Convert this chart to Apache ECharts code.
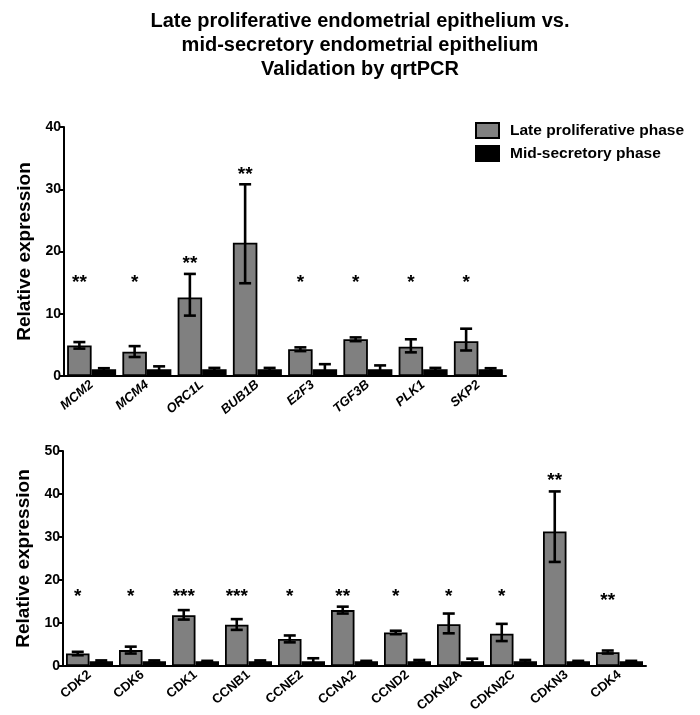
<!DOCTYPE html>
<html>
<head>
<meta charset="utf-8">
<script src="https://cdn.jsdelivr.net/npm/echarts@6/dist/echarts.min.js"></script>
<style>html,body{margin:0;padding:0;background:#fff}#c{width:700px;height:715px}</style>
</head>
<body>
<div id="c"></div>
<script>
// ---- data ----
const titleLines = ['Late proliferative endometrial epithelium vs.', 'mid-secretory endometrial epithelium', 'Validation by qrtPCR'];

const topCats = ['MCM2','MCM4','ORC1L','BUB1B','E2F3','TGF3B','PLK1','SKP2'];
const topLate = [4.9, 3.9, 12.6, 21.4, 4.3, 5.9, 4.7, 5.6];
const topLateLow = [4.4, 3.05, 9.7, 14.9, 4.0, 5.6, 3.8, 4.1];
const topLateHigh = [5.45, 4.8, 16.4, 30.8, 4.6, 6.2, 5.9, 7.6];
const topMid = [1.1, 1.1, 1.1, 1.1, 1.1, 1.1, 1.1, 1.1];
const topMidLow = [0.8, 0.6, 0.8, 0.8, 0.3, 0.4, 0.8, 0.8];
const topMidHigh = [1.25, 1.55, 1.3, 1.3, 1.9, 1.7, 1.3, 1.25];
const topSig = ['**','*','**','**','*','*','*','*'];
const topSigY = [15.7, 15.7, 18.6, 33.0, 15.7, 15.7, 15.7, 15.7];
const topTicks = [0, 10, 20, 30, 40];

const botCats = ['CDK2','CDK6','CDK1','CCNB1','CCNE2','CCNA2','CCND2','CDKN2A','CDKN2C','CDKN3','CDK4'];
const botLate = [2.9, 3.7, 11.8, 9.6, 6.3, 13.0, 7.8, 9.7, 7.5, 31.3, 3.2];
const botLateLow = [2.5, 2.9, 10.8, 8.4, 5.5, 12.2, 7.4, 7.6, 5.8, 24.2, 2.9];
const botLateHigh = [3.3, 4.5, 13.0, 10.9, 7.1, 13.8, 8.2, 12.2, 9.8, 40.6, 3.6];
const botMid = [1.1, 1.1, 1.1, 1.1, 1.1, 1.1, 1.1, 1.1, 1.1, 1.1, 1.1];
const botMidLow = [0.8, 0.8, 0.8, 0.8, 0.3, 0.8, 0.8, 0.4, 0.8, 0.8, 0.8];
const botMidHigh = [1.3, 1.3, 1.2, 1.3, 1.8, 1.2, 1.4, 1.7, 1.4, 1.2, 1.2];
const botSig = ['*','*','***','***','*','**','*','*','*','**','**'];
const botSigY = [17.0, 17.0, 17.0, 17.0, 17.0, 17.0, 17.0, 17.0, 17.0, 44.0, 16.0];
const botTicks = [0, 10, 20, 30, 40, 50];

const seriesNames = ['Late proliferative phase', 'Mid-secretory phase'];
const axisName = 'Relative expression';

// ---- styles ----
const FONT = 'Liberation Sans, Arial, sans-serif';
const GREY = '#808080';
const BW_TOP = 24.5, BW_BOT = 23.5;

function errSeries(xi, yi, low, high, offsetPx, z) {
  return {
    type: 'custom', xAxisIndex: xi, yAxisIndex: yi, z: z, silent: true,
    data: low.map((l, i) => [i, l, high[i]]),
    renderItem: function (params, api) {
      const i = api.value(0);
      const pLo = api.coord([i, api.value(1)]);
      const pHi = api.coord([i, api.value(2)]);
      const x = pLo[0] + offsetPx;
      const cap = 6;
      const st = { stroke: '#000', lineWidth: 2.6 };
      return { type: 'group', children: [
        { type: 'line', shape: { x1: x, y1: pLo[1], x2: x, y2: pHi[1] }, style: st },
        { type: 'line', shape: { x1: x - cap, y1: pHi[1], x2: x + cap, y2: pHi[1] }, style: st },
        { type: 'line', shape: { x1: x - cap, y1: pLo[1], x2: x + cap, y2: pLo[1] }, style: st }
      ]};
    }
  };
}

function sigSeries(xi, yi, sig, sy, offsetPx) {
  return {
    type: 'custom', xAxisIndex: xi, yAxisIndex: yi, z: 20, silent: true,
    data: sy.map((y, i) => [i, y]),
    renderItem: function (params, api) {
      const i = api.value(0);
      const p = api.coord([i, api.value(1)]);
      return { type: 'text', style: {
        x: p[0] + offsetPx, y: p[1] + 4, text: sig[i], fill: '#000',
        font: 'bold 19px ' + FONT, align: 'center', verticalAlign: 'middle'
      }};
    }
  };
}

function barSeries(name, xi, yi, data, color, bw) {
  return {
    name: name, type: 'bar', xAxisIndex: xi, yAxisIndex: yi, data: data,
    barWidth: bw, barGap: '0%', z: 2,
    itemStyle: { color: color, borderColor: '#000', borderWidth: 1.8 }
  };
}

function yAxis(gi, max, interval) {
  return {
    type: 'value', gridIndex: gi, min: 0, max: max, interval: interval,
    name: axisName, nameLocation: 'middle', nameGap: 27,
    nameTextStyle: { fontFamily: FONT, fontWeight: 'bold', fontSize: 19, color: '#000' },
    axisLine: { show: true, lineStyle: { color: '#000', width: 2 } },
    axisTick: { show: true, length: 4, lineStyle: { color: '#000', width: 2 } },
    axisLabel: { fontFamily: FONT, fontWeight: 'bold', fontSize: 14, color: '#000', margin: 3 },
    splitLine: { show: false }
  };
}

function xAxis(gi, cats, italic) {
  return {
    type: 'category', gridIndex: gi, data: cats,
    axisLine: { show: true, lineStyle: { color: '#000', width: 2 } },
    axisTick: { show: false },
    axisLabel: { interval: 0, rotate: 40, fontFamily: FONT, fontWeight: 'bold',
      fontStyle: italic ? 'italic' : 'normal', fontSize: 13, color: '#000', margin: 7 }
  };
}

const chart = echarts.init(document.getElementById('c'), null, { renderer: 'canvas' });
chart.setOption({
  backgroundColor: '#fff',
  animation: false,
  graphic: titleLines.map((t, k) => ({
    type: 'text', x: 360, y: 21 + k * 24, silent: true,
    style: { text: t, fill: '#000', font: 'bold 20px ' + FONT, align: 'center', verticalAlign: 'middle' }
  })),
  legend: {
    orient: 'vertical', left: 475, top: 122, padding: 0, icon: 'rect',
    itemWidth: 23, itemHeight: 15, itemGap: 6,
    data: seriesNames,
    textStyle: { fontFamily: FONT, fontWeight: 'bold', fontSize: 15.5, color: '#000', padding: [0, 0, 0, 6] },
    selectedMode: false
  },
  grid: [
    { left: 64, top: 127, right: 194, height: 249 },
    { left: 63, top: 451, right: 54, height: 215 }
  ],
  xAxis: [xAxis(0, topCats, true), xAxis(1, botCats, false)],
  yAxis: [yAxis(0, topTicks[topTicks.length - 1], topTicks[1] - topTicks[0]),
          yAxis(1, botTicks[botTicks.length - 1], botTicks[1] - botTicks[0])],
  series: [
    barSeries(seriesNames[0], 0, 0, topLate, GREY, BW_TOP),
    barSeries(seriesNames[1], 0, 0, topMid, '#000', BW_TOP),
    barSeries(seriesNames[0], 1, 1, botLate, GREY, BW_BOT),
    barSeries(seriesNames[1], 1, 1, botMid, '#000', BW_BOT),
    errSeries(0, 0, topLateLow, topLateHigh, -BW_TOP / 2, 10),
    errSeries(0, 0, topMidLow, topMidHigh, BW_TOP / 2, 10),
    errSeries(1, 1, botLateLow, botLateHigh, -BW_BOT / 2, 10),
    errSeries(1, 1, botMidLow, botMidHigh, BW_BOT / 2, 10),
    sigSeries(0, 0, topSig, topSigY, -BW_TOP / 2),
    sigSeries(1, 1, botSig, botSigY, -BW_BOT / 2)
  ]
});
</script>
</body>
</html>
